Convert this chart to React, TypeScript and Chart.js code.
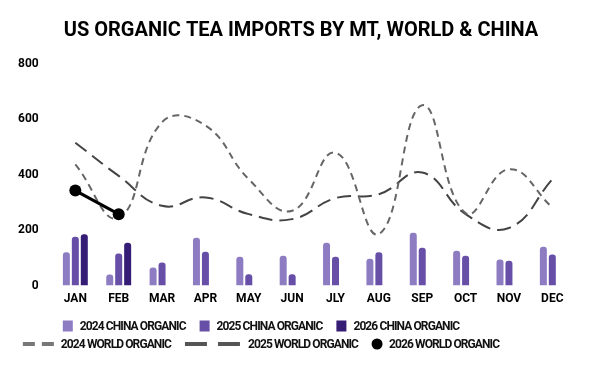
import { useEffect, useRef } from 'react';
import { Chart, registerables } from 'chart.js';

Chart.register(...registerables);

const categories = ['JAN', 'FEB', 'MAR', 'APR', 'MAY', 'JUN', 'JLY', 'AUG', 'SEP', 'OCT', 'NOV', 'DEC'];
const yTicks = [0, 200, 400, 600, 800];

const china2024 = [120, 40, 65, 173, 104, 108, 155, 97, 191, 126, 94, 140];
const china2025 = [176, 116, 83, 122, 41, 41, 104, 120, 137, 108, 90, 112];
const china2026 = [185, 155, null, null, null, null, null, null, null, null, null, null];
const world2024 = [438, 245, 590, 578, 384, 270, 480, 186, 651, 262, 420, 282];
const world2025 = [516, 396, 288, 318, 258, 240, 316, 330, 408, 258, 208, 384];
const world2026 = [343, 258, null, null, null, null, null, null, null, null, null, null];

const titleText = 'US ORGANIC TEA IMPORTS BY MT, WORLD & CHINA';
const seriesNames = [
  '2024 CHINA ORGANIC',
  '2025 CHINA ORGANIC',
  '2026 CHINA ORGANIC',
  '2024 WORLD ORGANIC',
  '2025 WORLD ORGANIC',
  '2026 WORLD ORGANIC',
];

const C24 = '#8e7cc3';
const C25 = '#674ea7';
const C26 = '#351c75';
const W24 = '#666666';
const W25 = '#444444';
const W26 = '#000000';

const FONT = 'Roboto';

const decorPlugin = {
  id: 'decor',
  afterDraw(chart: any) {
    const ctx = chart.ctx as any;
    ctx.save();
    // title
    ctx.font = `bold 20px ${FONT}`;
    ctx.textAlign = 'center';
    ctx.textBaseline = 'middle';
    ctx.fillStyle = '#000000';
    ctx.fillText(titleText, 301, 31);
    ctx.textAlign = 'left';

    // legend
    ctx.font = `bold 12px ${FONT}`;
    ctx.letterSpacing = '-0.9px';
    const rows = [
      {
        y: 326,
        items: [
          { kind: 'box', color: C24, w: 10, label: seriesNames[0] },
          { kind: 'box', color: C25, w: 10, label: seriesNames[1] },
          { kind: 'box', color: C26, w: 10, label: seriesNames[2] },
        ],
      },
      {
        y: 344,
        items: [
          { kind: 'line', color: '#777777', dash: [12, 7], w: 31, label: seriesNames[3] },
          { kind: 'line', color: '#555555', dash: [22, 11], w: 56, label: seriesNames[4] },
          { kind: 'dot', color: W26, w: 10, label: seriesNames[5] },
        ],
      },
    ];
    const gapIcon = 7;
    const gapItem = 14;
    const cx = 261;
    rows.forEach((row) => {
      const widths = row.items.map((it) => it.w + gapIcon + ctx.measureText(it.label).width);
      const total = widths.reduce((a: number, b: number) => a + b, 0) + gapItem * (row.items.length - 1);
      let x = cx - total / 2;
      row.items.forEach((it: any, i: number) => {
        const y = row.y;
        if (it.kind === 'box') {
          ctx.fillStyle = it.color;
          ctx.fillRect(x, y - 5.5, it.w, 11);
        } else if (it.kind === 'line') {
          ctx.strokeStyle = it.color;
          ctx.lineWidth = 4;
          ctx.setLineDash(it.dash);
          ctx.beginPath();
          ctx.moveTo(x, y);
          ctx.lineTo(x + it.w, y);
          ctx.stroke();
          ctx.setLineDash([]);
        } else {
          ctx.fillStyle = it.color;
          ctx.beginPath();
          ctx.arc(x + it.w / 2, y, 5.5, 0, Math.PI * 2);
          ctx.fill();
        }
        ctx.fillStyle = '#111111';
        ctx.fillText(it.label, x + it.w + gapIcon, y + 0.5);
        x += widths[i] + gapItem;
      });
    });
    ctx.restore();
  },
};

export default function App() {
  const ref = useRef<HTMLCanvasElement | null>(null);

  useEffect(() => {
    if (!ref.current) return;
    const barCommon = {
      type: 'bar' as const,
      categoryPercentage: 0.62,
      barPercentage: 0.78,
      borderRadius: 3,
      borderSkipped: 'start' as const,
      order: 2,
    };
    const chart = new Chart(ref.current, {
      type: 'bar',
      data: {
        labels: categories,
        datasets: [
          { ...barCommon, label: seriesNames[0], data: china2024, backgroundColor: C24 },
          { ...barCommon, label: seriesNames[1], data: china2025, backgroundColor: C25 },
          { ...barCommon, label: seriesNames[2], data: china2026, backgroundColor: C26 },
          {
            type: 'line',
            label: seriesNames[3],
            data: world2024,
            borderColor: W24,
            borderWidth: 2,
            borderDash: [7, 5],
            tension: 0.45,
            pointRadius: 0,
            fill: false,
            order: 1,
          },
          {
            type: 'line',
            label: seriesNames[4],
            data: world2025,
            borderColor: W25,
            borderWidth: 2,
            borderDash: [14, 7],
            tension: 0.45,
            pointRadius: 0,
            fill: false,
            order: 1,
          },
          {
            type: 'line',
            label: seriesNames[5],
            data: world2026,
            borderColor: W26,
            backgroundColor: W26,
            borderWidth: 3,
            tension: 0,
            pointRadius: 6,
            pointBackgroundColor: W26,
            pointBorderWidth: 0,
            fill: false,
            order: 0,
          },
        ] as any,
      },
      options: {
        animation: false,
        responsive: true,
        maintainAspectRatio: false,
        layout: { padding: { left: 3, right: 26, bottom: 59, top: 64 } },
        plugins: {
          legend: { display: false },
          tooltip: { enabled: false },
          title: { display: false },
        },
        scales: {
          x: {
            grid: { display: false, drawTicks: false },
            border: { display: false },
            ticks: {
              color: '#000000',
              font: { family: FONT, size: 12, weight: 'bold' },
              padding: 6,
            },
          },
          y: {
            min: 0,
            max: 800,
            grid: { display: false, drawTicks: false },
            border: { display: false },
            afterBuildTicks: (axis: any) => {
              axis.ticks = yTicks.map((v) => ({ value: v }));
            },
            ticks: {
              color: '#000000',
              font: { family: FONT, size: 12, weight: 'bold' },
              padding: 15,
            },
          },
        },
      },
      plugins: [decorPlugin],
    });
    return () => chart.destroy();
  }, []);

  return (
    <div style={{ position: 'absolute', left: 0, top: 0, width: 600, height: 371, background: '#ffffff' }}>
      <canvas ref={ref} />
    </div>
  );
}
